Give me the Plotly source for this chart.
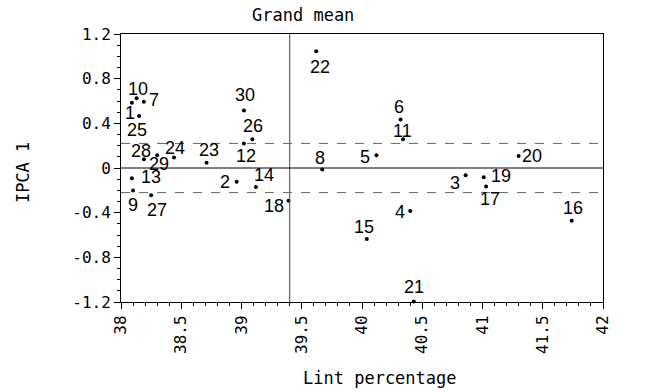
import plotly.graph_objects as go

# ---- data ----
genotypes = [str(i) for i in range(1, 31)]
lint_pct = [38.09, 38.96, 40.86, 40.40, 40.12, 40.32, 38.19, 39.67, 38.10, 38.13,
            40.34, 39.02, 38.09, 39.12, 40.04, 41.74, 41.03, 39.39, 41.01, 41.30,
            40.43, 39.62, 38.71, 38.44, 38.15, 39.09, 38.25, 38.19, 38.30, 39.02]
ipca1 = [0.584, -0.124, -0.064, -0.385, 0.114, 0.435, 0.593, -0.013, -0.201, 0.625,
         0.257, 0.219, -0.091, -0.171, -0.635, -0.472, -0.165, -0.294, -0.082, 0.108,
         -1.195, 1.045, 0.046, 0.094, 0.465, 0.257, -0.243, 0.079, 0.114, 0.516]
grand_mean = 39.40
ipca_limit = 0.22

x_tickvals = [38, 38.5, 39, 39.5, 40, 40.5, 41, 41.5, 42]
x_ticktext = ["38", "38.5", "39", "39.5", "40", "40.5", "41", "41.5", "42"]
y_tickvals = [-1.2, -0.8, -0.4, 0, 0.4, 0.8, 1.2]
y_ticktext = ["-1.2", "-0.8", "-0.4", "0", "0.4", "0.8", "1.2"]

# label offsets in pixels (dx right, dy down) -- layout only
label_offsets = {
    "1": (-1.6, 10.4), "2": (-11.7, 0), "3": (-10.6, 7.7), "4": (-10, 0.7),
    "5": (-11, 1.7), "6": (-1.7, -12.3), "7": (10.3, -1.3), "8": (-2.4, -11),
    "9": (0, 14.4), "10": (1.6, -9.4), "11": (0, -8), "12": (2, 12.4),
    "13": (18.7, -1.3), "14": (8, -12), "15": (-3, -12.3), "16": (1, -12.4),
    "17": (4.3, 13), "18": (-14.7, 5), "19": (17.7, -1.3), "20": (13.4, 0),
    "21": (0, -14.4), "22": (3.3, 15.3), "23": (2, -12.7), "24": (1.3, -9.3),
    "25": (-2.3, 14.3), "26": (1, -13.7), "27": (5.4, 15), "28": (-3.3, -8.3),
    "29": (1.6, 9), "30": (1.3, -15),
}

MONO = "DejaVu Sans Mono"
SANS = "Liberation Sans"

fig = go.Figure()
fig.add_trace(go.Scatter(
    x=lint_pct, y=ipca1, mode="markers",
    marker=dict(color="black", size=4),
    cliponaxis=False, showlegend=False, hoverinfo="skip",
))

annotations = []
for g, xv, yv in zip(genotypes, lint_pct, ipca1):
    dx, dy = label_offsets[g]
    annotations.append(dict(
        x=xv, y=yv, xref="x", yref="y", text=g, showarrow=False,
        xshift=dx, yshift=-dy, xanchor="center", yanchor="middle",
        font=dict(family=SANS, size=18, color="black"),
    ))

annotations += [
    dict(x=0.3766, y=1.071, xref="paper", yref="paper", text="Grand mean",
         showarrow=False, xanchor="center", yanchor="middle",
         font=dict(family=MONO, size=17, color="black")),
    dict(x=0.537, y=-0.2836, xref="paper", yref="paper", text="Lint percentage",
         showarrow=False, xanchor="center", yanchor="middle",
         font=dict(family=MONO, size=17, color="black")),
    dict(x=-0.2033, y=0.481, xref="paper", yref="paper", text="IPCA 1",
         showarrow=False, xanchor="center", yanchor="middle", textangle=-90,
         font=dict(family=MONO, size=17, color="black")),
]

shapes = [
    dict(type="line", xref="x", yref="y", x0=grand_mean, x1=grand_mean,
         y0=-1.2, y1=1.2, line=dict(color="#444", width=1)),
    dict(type="line", xref="x", yref="y", x0=38, x1=42, y0=0, y1=0,
         line=dict(color="black", width=1)),
    dict(type="line", xref="x", yref="y", x0=38, x1=42, y0=ipca_limit, y1=ipca_limit,
         line=dict(color="#666", width=1, dash="dash")),
    dict(type="line", xref="x", yref="y", x0=38, x1=42, y0=-ipca_limit, y1=-ipca_limit,
         line=dict(color="#666", width=1, dash="dash")),
]

fig.update_layout(
    width=646, height=392,
    margin=dict(l=121, r=43, t=34, b=90),
    paper_bgcolor="white", plot_bgcolor="white",
    annotations=annotations, shapes=shapes,
    xaxis=dict(
        range=[38, 42], tickvals=x_tickvals, ticktext=x_ticktext, tickangle=-90,
        ticks="outside", ticklen=6, tickcolor="black",
        minor=dict(dtick=0.1, ticks="outside", ticklen=3, tickcolor="black"),
        showline=True, linecolor="black", mirror=True, showgrid=False, zeroline=False,
        tickfont=dict(family=MONO, size=16, color="black"),
    ),
    yaxis=dict(
        range=[-1.2, 1.2], tickvals=y_tickvals, ticktext=y_ticktext,
        ticks="outside", ticklen=6, tickcolor="black",
        minor=dict(dtick=0.1, ticks="outside", ticklen=3, tickcolor="black"),
        showline=True, linecolor="black", mirror=True, showgrid=False, zeroline=False,
        tickfont=dict(family=MONO, size=16, color="black"),
    ),
)

fig.write_html("out.html", config={"displayModeBar": False},
               post_script="document.body.style.margin='0';")
